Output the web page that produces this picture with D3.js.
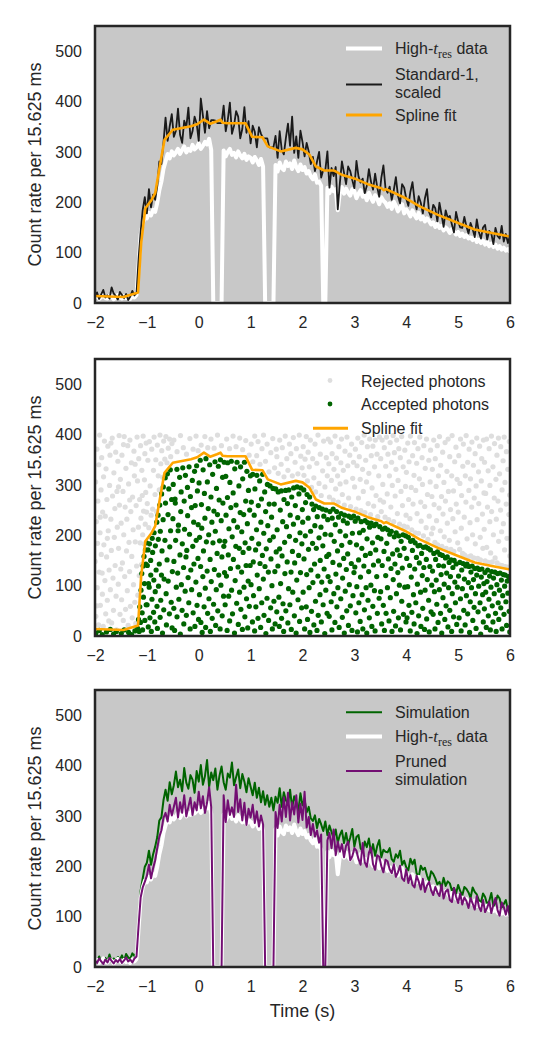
<!DOCTYPE html>
<html>
<head>
<meta charset="utf-8">
<script src="https://cdn.jsdelivr.net/npm/d3@7"></script>
<style>
  body { margin: 0; background: #fff; }
  text { font-family: "Liberation Sans", Arial, sans-serif; fill: #262626; }
</style>
</head>
<body>
<svg id="chart" width="540" height="1050"></svg>
<script>
(function(){

var xTicks = [-2, -1, 0, 1, 2, 3, 4, 5, 6];
var yTicks = [0, 100, 200, 300, 400, 500];

// light curves sampled every 0.04 s starting at t = -2 s
var t0 = -2, dt = 0.04;

var highTres = [11,14,8,12,17,10,9,15,13,7,12,16,11,9,14,10,12,8,15,11,16,
  76,136,158,171,168,179,174,185,181,199,224,241,266,281,296,287,301,293,299,306,
  296,304,311,299,306,302,314,305,309,317,306,312,320,315,326,304,0,0,0,0,
  0,303,291,300,306,294,298,289,301,293,287,296,284,291,288,279,290,283,274,286,
  271,0,0,0,0,0,274,261,279,268,264,281,272,277,266,283,270,262,275,264,
  270,257,262,251,246,255,239,241,233,0,0,229,218,231,222,226,184,220,230,217,
  227,219,213,226,222,208,217,224,211,215,204,219,209,201,214,207,196,210,203,199,
  191,198,187,201,193,182,189,196,178,186,180,172,184,175,168,179,166,171,162,168,
  163,156,160,151,157,149,153,144,150,146,139,147,142,136,141,133,138,131,135,128,
  130,125,132,121,126,119,124,116,122,113,118,111,116,108,113,106,110,104,107,101];

var standard1 = [12,21,8,17,26,11,15,9,31,19,14,7,22,16,10,18,6,13,24,15,20,
  88,142,185,210,178,226,190,215,205,232,281,276,318,368,322,351,375,330,342,386,
  334,318,362,349,388,327,341,370,356,322,406,372,338,381,347,363,363,362,357,357,
  357,392,341,364,398,336,352,381,370,327,346,389,338,361,317,352,340,309,349,336,
  327,327,327,309,309,309,332,288,341,304,295,328,356,312,370,298,331,288,342,320,
  291,318,301,276,290,262,281,300,249,264,264,301,229,268,252,270,186,238,281,259,
  236,271,262,244,228,282,251,239,247,218,233,266,241,225,257,230,211,249,273,228,
  219,231,205,224,250,213,198,236,229,207,193,221,240,204,186,212,199,178,208,226,
  181,170,195,188,162,199,176,151,184,169,173,156,140,181,162,150,149,171,152,138,
  159,147,131,166,141,128,150,155,126,143,138,117,149,133,128,153,122,137,119,134];

var simulation = [16,11,21,9,14,18,12,25,10,17,13,20,15,23,12,26,19,16,27,22,29,
  94,152,176,199,207,231,203,224,239,258,291,297,331,352,330,367,343,361,388,357,
  372,349,395,366,354,381,372,346,389,368,401,362,379,411,357,386,371,394,352,380,
  398,367,352,384,376,406,361,377,392,355,383,368,347,375,358,341,366,336,356,327,
  349,322,341,318,336,311,338,326,355,318,347,331,324,352,316,339,327,310,345,321,
  333,307,318,295,290,301,276,294,283,270,289,262,281,268,255,273,247,262,271,246,
  266,243,257,274,239,258,262,236,229,249,238,255,227,244,221,240,252,218,233,229,
  228,236,214,209,224,217,231,203,211,198,192,215,204,213,186,179,201,193,197,182,
  171,190,185,176,164,169,158,177,161,170,166,152,157,146,163,151,142,159,155,148,
  137,158,149,144,133,128,146,139,124,131,147,121,127,142,136,118,125,133,113,108];

var prunedSim = [13,8,17,11,6,15,9,18,12,7,14,10,16,8,13,19,11,15,9,17,21,
  82,138,158,169,181,203,176,196,212,236,259,271,296,306,289,322,301,318,336,297,
  327,306,341,299,318,336,302,327,311,348,315,339,306,326,357,318,0,0,0,0,
  0,341,288,331,302,317,298,362,308,333,291,326,282,314,297,322,286,309,279,301,
  283,0,0,0,0,0,308,276,322,289,337,298,346,291,327,303,341,287,324,292,
  348,277,298,262,284,259,271,247,263,0,0,251,266,236,273,222,249,229,244,218,
  241,249,212,220,236,231,214,203,246,208,199,227,237,204,193,222,219,200,188,213,
  210,194,186,204,179,188,201,176,171,194,167,182,163,158,181,170,154,175,149,162,
  169,152,143,159,148,141,163,136,150,154,133,129,157,140,127,146,124,138,131,117,
  137,126,114,141,120,111,133,109,118,130,107,124,137,113,102,128,119,104,121,97];

var splineFit = [[-2.00,14],[-1.45,12],[-1.17,21],[-1.11,119],[-1.03,188],[-0.92,203],
  [-0.84,218],[-0.75,272],[-0.66,324],[-0.50,344],[-0.15,351],[-0.03,355],[0.10,364],
  [0.22,356],[0.35,361],[0.42,364],[0.46,358],[0.55,357],[0.90,357],[1.03,330],[1.23,329],
  [1.33,311],[1.58,301],[1.87,308],[2.00,305],[2.13,295],[2.26,271],[2.42,263],[2.61,263],
  [2.77,254],[3.03,246],[3.26,236],[3.52,228],[3.57,224],[3.61,226],[3.97,209],[4.26,192],
  [4.61,175],[5.00,159],[5.32,146],[5.65,139],[6.00,132]];

// photons [time, rate]
var acceptedPhotons = [
  [-1.982,6],[-1.917,11],[-1.861,3],[-1.779,8],[-1.705,13],[-1.642,4],[-1.588,9],[-1.493,5],[-1.437,12],[-1.352,7],
  [-1.296,3],[-1.231,10],[-1.178,15],[-1.161,33],[-1.149,9],[-1.137,58],[-1.124,27],[-1.113,91],[-1.098,124],[-1.091,46],
  [-1.083,12],[-1.072,139],[-1.066,77],[-1.055,158],[-1.047,104],[-1.039,31],[-1.028,171],[-1.021,143],[-1.013,62],[-1.006,185],
  [-0.996,62],[-0.991,140],[-0.978,171],[-0.973,18],[-0.969,104],[-0.955,97],[-0.948,183],[-0.941,36],[-0.927,150],[-0.925,121],
  [-0.914,9],[-0.902,73],[-0.897,194],[-0.889,166],[-0.871,47],[-0.866,111],[-0.861,205],[-0.848,28],[-0.839,88],[-0.836,179],
  [-0.822,131],[-0.809,226],[-0.805,59],[-0.797,15],[-0.784,240],[-0.779,192],[-0.776,99],[-0.761,143],[-0.752,260],[-0.744,37],
  [-0.741,208],[-0.733,71],[-0.719,121],[-0.716,282],[-0.708,169],[-0.699,6],[-0.687,231],[-0.683,296],[-0.675,52],[-0.668,113],
  [-0.652,190],[-0.646,314],[-0.641,264],[-0.629,84],[-0.623,22],[-0.611,151],[-0.604,322],[-0.592,241],[-0.589,109],[-0.577,292],
  [-0.566,44],[-0.559,177],[-0.548,330],[-0.543,209],[-0.531,67],[-0.522,271],[-0.514,16],[-0.509,128],
  [-0.498,233],[-0.492,301],[-0.481,55],[-0.479,148],[-0.466,11],[-0.457,272],[-0.452,264],[-0.446,190],[-0.433,97],[-0.421,331],
  [-0.419,38],[-0.406,125],[-0.398,209],[-0.391,220],[-0.383,73],[-0.369,315],[-0.362,161],[-0.355,4],[-0.347,247],[-0.339,286],
  [-0.335,102],[-0.321,51],[-0.317,183],[-0.308,334],[-0.293,136],[-0.288,24],[-0.281,268],[-0.274,212],[-0.262,89],[-0.257,319],
  [-0.246,157],[-0.239,41],[-0.231,170],[-0.218,295],[-0.214,239],[-0.205,116],[-0.192,66],[-0.187,336],[-0.178,202],[-0.166,14],
  [-0.161,277],[-0.153,131],[-0.139,255],[-0.137,92],[-0.124,309],[-0.116,178],[-0.108,46],[-0.097,226],[-0.093,143],[-0.081,327],
  [-0.074,19],[-0.068,259],[-0.055,107],[-0.049,190],[-0.041,338],[-0.033,61],[-0.026,288],[-0.015,154],[-0.011,221],[-0.004,33],
  [0.006,304],[0.013,82],[0.017,196],[0.029,349],[0.036,138],[0.041,27],[0.052,261],[0.058,214],[0.066,7],[0.079,118],
  [0.084,330],[0.091,169],[0.103,58],[0.109,283],[0.118,234],[0.126,95],[0.133,17],[0.139,352],[0.147,187],[0.162,129],
  [0.166,306],[0.171,45],[0.183,253],[0.192,201],[0.197,74],[0.211,340],[0.219,152],[0.224,9],[0.236,276],[0.241,108],
  [0.253,226],[0.259,35],[0.268,321],[0.274,185],[0.286,63],[0.292,248],[0.301,132],[0.313,346],[0.319,208],[0.326,21],
  [0.338,92],[0.342,293],[0.354,164],[0.361,241],[0.367,50],[0.378,337],[0.386,121],[0.393,270],[0.401,189],[0.412,14],
  [0.418,350],[0.427,101],[0.433,229],[0.446,157],[0.452,40],[0.459,315],[0.466,264],[0.478,79],[0.483,178],[0.491,345],
  [0.497,126],
  [0.503,188],[0.509,62],[0.521,317],[0.526,240],[0.534,119],[0.547,11],[0.553,275],[0.558,344],[0.569,161],[0.577,79],
  [0.582,213],[0.596,30],[0.601,305],[0.612,134],[0.619,255],[0.628,347],[0.633,91],[0.645,197],[0.651,44],[0.663,284],
  [0.668,152],[0.675,229],[0.689,6],[0.694,332],[0.702,110],[0.715,178],[0.719,260],[0.731,65],[0.738,345],[0.746,216],
  [0.757,137],[0.762,23],[0.774,298],[0.781,174],[0.787,87],[0.799,245],[0.806,336],[0.812,53],[0.826,127],[0.829,207],
  [0.841,13],[0.847,312],[0.855,166],[0.866,241],[0.872,97],[0.881,345],[0.889,38],[0.894,185],[0.905,268],[0.913,140],
  [0.921,74],[0.928,327],[0.937,223],[0.944,16],[0.953,109],[0.958,289],[0.967,174],[0.975,59],[0.982,250],[0.991,140],
  [0.997,318],
  [1.008,102],[1.014,266],[1.023,194],[1.035,28],[1.041,321],[1.052,147],[1.057,80],[1.069,240],[1.077,10],[1.083,292],
  [1.096,171],[1.101,58],[1.113,211],[1.119,319],[1.127,121],[1.142,35],[1.148,259],[1.155,183],[1.166,94],[1.174,308],
  [1.181,144],[1.193,17],[1.198,226],[1.209,272],[1.214,66],[1.227,160],[1.232,321],[1.245,113],[1.253,204],[1.258,41],
  [1.271,286],[1.277,138],[1.289,247],[1.294,5],[1.302,173],[1.316,75],[1.323,301],[1.331,219],[1.342,127],[1.347,31],
  [1.358,262],[1.369,190],[1.374,298],[1.386,56],[1.392,153],[1.404,236],[1.411,100],[1.419,14],[1.431,293],[1.438,197],
  [1.449,69],[1.456,262],[1.467,128],[1.472,24],[1.484,292],[1.493,167],
  [1.504,48],[1.511,211],[1.526,139],[1.531,286],[1.545,77],[1.553,19],[1.559,173],[1.572,250],[1.578,104],[1.591,288],
  [1.597,35],[1.606,159],[1.618,227],[1.624,64],[1.637,9],[1.643,271],[1.655,186],[1.661,124],[1.674,289],[1.679,50],
  [1.692,217],[1.705,147],[1.711,263],[1.718,26],[1.731,94],[1.736,290],[1.748,198],[1.757,62],[1.763,240],[1.779,127],
  [1.784,13],[1.792,276],[1.806,168],[1.812,87],[1.825,222],[1.829,294],[1.843,40],[1.849,145],[1.862,259],[1.868,190],
  [1.877,6],[1.889,111],[1.896,296],[1.908,235],[1.913,72],[1.926,160],[1.931,282],[1.944,29],[1.952,205],[1.961,126],
  [1.969,294],[1.983,56],[1.988,183],[1.997,251],
  [2.004,226],[2.012,87],[2.025,290],[2.029,153],[2.041,14],[2.054,199],[2.059,265],[2.072,58],[2.081,122],[2.088,281],
  [2.097,33],[2.109,234],[2.116,172],[2.128,96],[2.137,276],[2.143,7],[2.156,208],[2.161,131],[2.174,49],[2.182,262],
  [2.194,184],[2.201,106],[2.213,251],[2.219,22],[2.232,143],[2.238,219],[2.251,69],[2.257,258],[2.266,174],[2.279,11],
  [2.285,237],[2.297,119],[2.303,41],[2.318,195],[2.323,255],[2.337,82],[2.342,150],[2.356,216],[2.363,28],[2.371,107],
  [2.384,252],[2.392,179],[2.398,62],[2.411,238],[2.417,133],[2.429,5],[2.436,202],[2.449,91],[2.453,250],[2.467,158],
  [2.474,45],[2.486,231],[2.493,118],
  [2.507,162],[2.515,39],[2.528,247],[2.534,108],[2.546,201],[2.553,68],[2.567,12],[2.572,234],[2.586,146],[2.591,252],
  [2.604,84],[2.612,188],[2.625,27],[2.633,221],[2.644,123],[2.657,247],[2.663,58],[2.675,169],[2.682,96],[2.694,236],
  [2.707,17],[2.713,141],[2.724,208],[2.738,74],[2.744,243],[2.756,180],[2.768,37],[2.773,115],[2.787,229],[2.794,154],
  [2.806,6],[2.811,240],[2.824,89],[2.831,199],[2.845,132],[2.852,50],[2.864,224],[2.871,163],[2.885,21],[2.892,238],
  [2.903,102],[2.916,186],[2.922,60],[2.935,235],[2.941,144],[2.954,11],[2.962,204],[2.973,80],[2.986,238],[2.992,126],
  [3.009,137],[3.016,228],[3.028,46],[3.041,181],[3.047,98],[3.059,8],[3.068,234],[3.081,151],[3.087,66],[3.099,205],
  [3.112,29],[3.118,117],[3.131,227],[3.144,174],[3.149,82],[3.163,14],[3.171,210],[3.183,139],[3.194,52],[3.206,229],
  [3.213,160],[3.226,96],[3.239,6],[3.244,193],[3.257,225],[3.263,71],[3.276,128],[3.288,36],[3.293,216],[3.306,164],
  [3.318,101],[3.325,224],[3.337,19],[3.349,185],[3.356,59],[3.368,141],[3.381,219],[3.387,90],[3.399,10],[3.412,171],
  [3.418,222],[3.431,118],[3.443,45],[3.452,196],[3.464,149],[3.477,75],[3.489,217],
  [3.506,88],[3.513,193],[3.526,24],[3.537,140],[3.544,212],[3.558,61],[3.571,168],[3.579,11],[3.592,214],[3.604,120],
  [3.611,45],[3.624,184],[3.637,96],[3.643,211],[3.656,153],[3.668,30],[3.681,202],[3.693,76],[3.706,134],[3.712,208],
  [3.725,9],[3.738,163],[3.749,112],[3.757,49],[3.769,197],[3.782,143],[3.794,20],[3.806,205],[3.811,84],[3.827,171],
  [3.838,126],[3.849,36],[3.855,199],[3.868,101],[3.876,160],[3.889,12],[3.901,188],[3.913,69],[3.924,135],[3.937,201],
  [3.946,43],[3.959,174],[3.971,97],[3.988,199],[3.995,28],
  [4.009,154],[4.016,36],[4.028,98],[4.041,196],[4.052,61],[4.065,140],[4.077,10],[4.084,188],[4.097,117],[4.108,47],
  [4.119,170],[4.127,190],[4.139,82],[4.151,24],[4.163,133],[4.171,185],[4.184,66],[4.196,156],[4.208,5],[4.215,103],
  [4.227,179],[4.239,40],[4.252,145],[4.264,180],[4.276,87],[4.283,19],[4.296,164],[4.309,120],[4.318,55],[4.331,176],
  [4.339,136],[4.352,13],[4.363,91],[4.375,177],[4.387,152],[4.394,34],[4.406,112],[4.419,174],[4.431,71],[4.443,8],
  [4.455,138],[4.466,171],[4.478,48],[4.491,101],
  [4.507,129],[4.518,43],[4.531,164],[4.543,88],[4.554,14],[4.566,152],[4.578,111],[4.589,63],[4.601,167],[4.613,27],
  [4.625,140],[4.638,92],[4.649,162],[4.661,45],[4.672,122],[4.684,6],[4.697,160],[4.708,76],[4.719,139],[4.731,103],
  [4.743,33],[4.756,155],[4.768,60],[4.779,125],[4.791,157],[4.804,18],[4.816,96],[4.827,146],[4.839,51],[4.852,118],
  [4.864,151],[4.875,9],[4.887,84],[4.899,136],[4.912,38],[4.924,150],[4.936,107],[4.948,66],[4.961,143],[4.973,23],
  [4.986,97],
  [5.008,119],[5.019,36],[5.033,146],[5.045,74],[5.058,10],[5.069,131],[5.082,94],[5.096,144],[5.108,51],[5.121,113],
  [5.135,22],[5.147,139],[5.159,80],[5.171,143],[5.184,44],[5.197,106],[5.209,138],[5.221,7],[5.234,68],[5.247,127],
  [5.258,96],[5.271,139],[5.283,31],[5.296,112],[5.308,57],[5.321,134],[5.334,84],[5.346,15],[5.359,121],[5.372,135],
  [5.384,48],[5.397,99],[5.409,132],[5.422,66],[5.435,4],[5.447,117],[5.459,133],[5.472,82],[5.485,28],[5.496,104],
  [5.506,54],[5.518,126],[5.531,87],[5.543,17],[5.557,108],[5.569,131],[5.582,40],[5.594,73],[5.607,119],[5.621,12],
  [5.633,97],[5.646,128],[5.658,60],[5.671,28],[5.683,115],[5.696,84],[5.708,127],[5.721,45],[5.733,9],[5.747,102],
  [5.759,124],[5.772,66],[5.784,33],[5.797,91],[5.809,125],[5.822,56],[5.834,111],[5.847,14],[5.859,80],[5.872,122],
  [5.884,43],[5.897,99],[5.909,121],[5.921,68],[5.934,21],[5.946,109],[5.959,85],[5.971,118],[5.984,49],[5.996,8]];

var rejectedPhotons = [
  [-1.997,148],[-1.988,306],[-1.983,39],[-1.975,227],[-1.964,371],[-1.963,60],[-1.958,96],[-1.952,184],[-1.944,268],[-1.931,22],
  [-1.926,340],[-1.919,127],[-1.911,399],[-1.903,205],[-1.9,236],[-1.896,61],[-1.884,290],[-1.879,162],[-1.871,354],[-1.862,125],
  [-1.858,83],[-1.853,246],[-1.842,19],[-1.835,316],[-1.829,181],[-1.818,387],[-1.809,110],[-1.802,238],[-1.794,44],[-1.787,332],
  [-1.776,157],[-1.771,271],[-1.763,71],[-1.762,194],[-1.752,377],[-1.745,209],[-1.734,30],[-1.728,131],[-1.719,299],[-1.711,359],
  [-1.703,92],[-1.694,232],[-1.692,383],[-1.685,170],[-1.679,26],[-1.668,393],[-1.662,278],[-1.653,115],[-1.644,51],[-1.636,324],
  [-1.628,196],[-1.617,253],[-1.612,140],[-1.601,365],[-1.594,79],[-1.586,12],[-1.577,287],[-1.571,216],[-1.559,347],[-1.552,103],
  [-1.547,296],[-1.546,174],[-1.535,398],[-1.529,260],[-1.518,43],[-1.511,311],[-1.503,133],
  [-1.496,224],[-1.487,72],[-1.481,359],[-1.472,145],[-1.461,287],[-1.455,31],[-1.451,380],[-1.446,201],[-1.437,396],[-1.428,118],
  [-1.419,256],[-1.411,53],[-1.404,333],[-1.393,169],[-1.386,232],[-1.377,90],[-1.369,378],[-1.361,21],[-1.352,302],[-1.344,186],
  [-1.333,128],[-1.331,270],[-1.327,389],[-1.318,59],[-1.309,247],[-1.298,344],[-1.291,158],[-1.283,36],[-1.276,276],[-1.265,211],
  [-1.258,102],[-1.249,367],[-1.241,318],[-1.232,67],[-1.227,341],[-1.224,187],[-1.213,25],[-1.207,259],[-1.198,139],[-1.189,395],
  [-1.181,308],[-1.174,81],[-1.163,216],[-1.156,352],[-1.148,120],[-1.139,271],[-1.131,185],[-1.122,378],[-1.114,234],[-1.106,142],
  [-1.097,329],[-1.089,279],[-1.081,201],[-1.072,397],[-1.064,248],[-1.055,183],[-1.047,310],[-1.039,362],[-1.031,222],[-1.022,285],
  [-1.014,383],[-1.006,246],
  [-0.992,263],[-0.981,349],[-0.963,215],[-0.951,386],[-0.937,298],[-0.918,240],[-0.906,371],[-0.889,252],[-0.873,329],[-0.861,395],
  [-0.842,281],[-0.828,350],[-0.815,247],[-0.798,379],[-0.781,318],[-0.762,290],[-0.747,399],[-0.731,342],[-0.713,368],[-0.694,315],
  [-0.676,387],[-0.654,351],[-0.633,396],[-0.612,344],[-0.588,373],[-0.562,391],[-0.541,356],[-0.517,382],
  [-0.479,389],[-0.418,366],[-0.352,398],[-0.297,374],[-0.236,361],[-0.171,392],[-0.109,371],[-0.052,397],[-0.013,368],
  [0.047,379],[0.118,396],[0.174,374],[0.236,391],[0.297,373],[0.361,399],[0.437,378],
  [0.538,391],[0.594,372],[0.661,397],[0.719,376],[0.789,393],[0.846,370],[0.906,388],[0.971,359],
  [1.011,381],[1.043,346],[1.079,397],[1.116,358],[1.143,386],[1.181,341],[1.219,372],[1.248,399],[1.286,347],[1.318,381],
  [1.353,326],[1.389,364],[1.427,392],[1.462,334],[1.494,371],
  [1.506,356],[1.532,323],[1.561,389],[1.588,341],[1.611,374],[1.643,316],[1.667,397],[1.698,352],[1.719,329],[1.748,381],
  [1.776,362],[1.804,318],[1.823,394],[1.857,345],[1.882,372],[1.911,322],[1.938,399],[1.967,357],[1.993,334],
  [2.014,376],[2.028,319],[2.049,351],[2.073,396],[2.094,308],[2.108,365],[2.131,336],[2.152,389],[2.174,295],[2.196,352],
  [2.219,314],[2.241,381],[2.253,286],[2.276,343],[2.298,399],[2.319,303],[2.343,361],[2.361,279],[2.388,328],[2.407,387],
  [2.432,296],[2.459,354],[2.478,318],[2.496,391],
  [2.508,342],[2.519,276],[2.541,385],[2.557,309],[2.571,362],[2.593,270],[2.606,331],[2.627,397],[2.639,292],[2.654,353],
  [2.676,318],[2.688,266],[2.703,376],[2.725,302],[2.739,344],[2.752,391],[2.768,281],[2.787,329],[2.806,260],[2.819,367],
  [2.838,306],[2.857,395],[2.873,338],[2.889,274],[2.911,359],[2.927,257],[2.946,381],[2.968,313],[2.983,345],
  [3.004,296],[3.019,371],[3.033,252],[3.051,338],[3.066,393],[3.079,274],[3.095,356],[3.112,311],[3.127,249],[3.141,384],
  [3.158,331],[3.172,287],[3.189,399],[3.203,245],[3.218,349],[3.234,306],[3.251,376],[3.266,263],[3.279,323],[3.296,391],
  [3.311,241],[3.326,358],[3.341,294],[3.357,377],[3.372,258],[3.389,336],[3.404,389],[3.418,279],[3.436,361],[3.451,237],
  [3.469,318],[3.484,395],[3.497,270],
  [3.508,352],[3.519,247],[3.536,389],[3.548,301],[3.563,266],[3.577,374],[3.592,236],[3.604,337],[3.619,395],[3.633,282],
  [3.647,361],[3.661,231],[3.676,318],[3.689,384],[3.703,256],[3.718,345],[3.731,299],[3.747,398],[3.758,227],[3.771,364],
  [3.786,278],[3.801,331],[3.815,389],[3.829,243],[3.842,309],[3.857,372],[3.871,222],[3.886,354],[3.899,287],[3.912,396],
  [3.927,259],[3.941,336],[3.956,218],[3.972,369],[3.985,297],[3.997,240],
  [4.003,325],[4.02,216],[4.029,383],[4.046,271],[4.054,346],[4.071,233],[4.08,397],[4.097,295],[4.106,211],[4.123,358],
  [4.131,262],[4.149,319],[4.158,384],[4.175,205],[4.183,289],[4.201,343],[4.209,243],[4.226,372],[4.236,204],[4.253,312],
  [4.261,395],[4.279,266],[4.288,228],[4.305,354],[4.313,301],[4.331,199],[4.339,378],[4.356,257],[4.366,333],[4.383,215],
  [4.391,391],[4.409,281],[4.418,192],[4.435,349],[4.443,238],[4.461,306],[4.469,369],[4.486,203],[4.494,277],
  [4.503,331],[4.514,214],[4.529,389],[4.537,261],[4.552,186],[4.559,352],[4.576,297],[4.584,229],[4.598,378],[4.606,181],
  [4.621,318],[4.633,254],[4.641,396],[4.657,209],[4.663,339],[4.679,277],[4.688,178],[4.702,365],[4.709,242],[4.726,305],
  [4.733,197],[4.749,384],[4.756,268],[4.771,174],[4.784,327],[4.792,224],[4.807,391],[4.813,287],[4.83,190],[4.838,356],
  [4.853,251],[4.861,172],[4.876,318],[4.884,398],[4.899,233],[4.911,288],[4.918,168],[4.934,346],[4.942,207],[4.958,375],
  [4.964,262],[4.981,311],[4.992,185],
  [5.002,246],[5.013,358],[5.029,172],[5.034,303],[5.046,391],[5.061,214],[5.067,279],[5.085,164],[5.09,337],[5.101,381],
  [5.118,236],[5.123,161],[5.139,318],[5.15,266],[5.155,398],[5.172,193],[5.184,345],[5.191,157],[5.207,289],[5.212,371],
  [5.229,225],[5.238,312],[5.244,159],[5.261,256],[5.266,385],[5.279,201],[5.295,339],[5.301,155],[5.311,274],[5.328,362],
  [5.331,183],[5.347,298],[5.359,393],[5.366,231],[5.377,154],[5.393,326],[5.398,263],[5.414,377],[5.426,196],[5.43,151],
  [5.447,308],[5.455,352],[5.469,242],[5.477,174],[5.488,389],[5.498,284],
  [5.503,212],[5.509,345],[5.522,149],[5.531,283],[5.548,391],[5.551,176],[5.566,256],[5.579,328],[5.583,146],[5.598,372],
  [5.611,227],[5.613,299],[5.627,165],[5.642,397],[5.646,247],[5.659,147],[5.671,336],[5.68,201],[5.697,274],[5.702,382],
  [5.713,155],[5.729,311],[5.736,232],[5.748,359],[5.753,145],[5.769,268],[5.777,393],[5.781,188],[5.799,322],[5.806,141],
  [5.818,250],[5.822,376],[5.839,207],[5.847,290],[5.851,140],[5.867,348],[5.872,223],[5.888,395],[5.896,171],[5.903,305],
  [5.911,138],[5.927,262],[5.931,366],[5.942,194],[5.958,331],[5.963,137],[5.979,241],[5.986,386],[5.992,280],[5.997,159]];

var colors = {
  panel: "#c8c8c8", frame: "#262626", white: "#ffffff", black: "#1a1a1a",
  orange: "#ffa500", green: "#006400", purple: "#730f73", rejected: "#dedede"
};

var left = 95, width = 415, height = 277;
var panelTops = [26, 359, 690];

var svg = d3.select("#chart");

var x = d3.scaleLinear().domain([-2, 6]).range([0, width]);
var y = d3.scaleLinear().domain([0, 550]).range([height, 0]);

function sampled(vals) {
  return vals.map(function(v, i) { return [t0 + i * dt, v]; });
}

var line = d3.line()
  .x(function(d) { return x(d[0]); })
  .y(function(d) { return y(d[1]); });

function makePanel(i, bg) {
  var g = svg.append("g")
    .attr("transform", "translate(" + left + "," + panelTops[i] + ")");
  g.append("clipPath").attr("id", "clip" + i)
    .append("rect").attr("width", width).attr("height", height);
  g.append("rect").attr("width", width).attr("height", height).attr("fill", bg);

  var plot = g.append("g").attr("clip-path", "url(#clip" + i + ")");

  var xAxis = g.append("g")
    .attr("transform", "translate(0," + height + ")")
    .call(d3.axisBottom(x).tickValues(xTicks).tickSize(0).tickPadding(14)
      .tickFormat(d3.format("d")));
  var yAxis = g.append("g")
    .call(d3.axisLeft(y).tickValues(yTicks).tickSize(0).tickPadding(13));
  [xAxis, yAxis].forEach(function(a) {
    a.select(".domain").remove();
    a.attr("font-size", 16).attr("font-family", null);
  });

  svg.append("text")
    .attr("transform", "translate(41," + (panelTops[i] + height / 2) + ") rotate(-90)")
    .attr("text-anchor", "middle")
    .attr("font-size", 18)
    .text("Count rate per 15.625 ms");

  return {g: g, plot: plot};
}

function frame(p) {
  p.g.append("rect")
    .attr("width", width).attr("height", height)
    .attr("fill", "none")
    .attr("stroke", colors.frame)
    .attr("stroke-width", 2.5);
}

function drawLine(plot, data, color, w) {
  plot.append("path")
    .datum(data)
    .attr("fill", "none")
    .attr("stroke", color)
    .attr("stroke-width", w)
    .attr("stroke-linejoin", "round")
    .attr("d", line);
}

function legendLine(x1, yy, color, w) {
  svg.append("line")
    .attr("x1", x1).attr("x2", x1 + 36)
    .attr("y1", yy).attr("y2", yy)
    .attr("stroke", color).attr("stroke-width", w);
}

function legendText(xx, yy, lines) {
  var t = svg.append("text").attr("x", xx).attr("y", yy).attr("font-size", 16);
  lines.forEach(function(s, k) {
    t.append("tspan").attr("x", xx).attr("dy", k ? 17.5 : 0).text(s);
  });
  return t;
}

function highTresLabel(xx, yy) {
  var t = svg.append("text").attr("x", xx).attr("y", yy).attr("font-size", 16);
  t.append("tspan").text("High-");
  t.append("tspan").attr("font-family", "Liberation Serif, serif")
    .attr("font-style", "italic").attr("font-size", 17).text("t");
  t.append("tspan").attr("font-family", "Liberation Serif, serif")
    .attr("font-size", 12).attr("dy", 4).text("res");
  t.append("tspan").attr("dy", -4).text(" data");
}

// panel 1: light curves
var p1 = makePanel(0, colors.panel);
drawLine(p1.plot, sampled(highTres), colors.white, 4);
drawLine(p1.plot, sampled(standard1), colors.black, 1.8);
drawLine(p1.plot, splineFit, colors.orange, 2.6);
frame(p1);

legendLine(346, 48.5, colors.white, 4);
highTresLabel(395, 54);
legendLine(346, 84.5, colors.black, 2);
legendText(395, 80, ["Standard-1,", "scaled"]);
legendLine(346, 115, colors.orange, 3);
legendText(395, 121, ["Spline fit"]);

// panel 2: photon acceptance
var p2 = makePanel(1, "#ffffff");
p2.plot.selectAll("circle.rej")
  .data(rejectedPhotons).enter()
  .append("circle").attr("class", "rej")
  .attr("cx", function(d) { return x(d[0]); })
  .attr("cy", function(d) { return y(d[1]); })
  .attr("r", 2.6)
  .attr("fill", colors.rejected);
p2.plot.selectAll("circle.acc")
  .data(acceptedPhotons).enter()
  .append("circle").attr("class", "acc")
  .attr("cx", function(d) { return x(d[0]); })
  .attr("cy", function(d) { return y(d[1]); })
  .attr("r", 2.6)
  .attr("fill", colors.green);
drawLine(p2.plot, splineFit, colors.orange, 2.6);
frame(p2);

svg.append("circle").attr("cx", 330).attr("cy", 380.5).attr("r", 2.4).attr("fill", colors.rejected);
legendText(361, 386.5, ["Rejected photons"]);
svg.append("circle").attr("cx", 330).attr("cy", 404).attr("r", 2.4).attr("fill", colors.green);
legendText(361, 410, ["Accepted photons"]);
svg.append("line").attr("x1", 313).attr("x2", 348).attr("y1", 428.3).attr("y2", 428.3)
  .attr("stroke", colors.orange).attr("stroke-width", 3);
legendText(361, 434, ["Spline fit"]);

// panel 3: simulation
var p3 = makePanel(2, colors.panel);
drawLine(p3.plot, sampled(simulation), colors.green, 2);
drawLine(p3.plot, sampled(highTres), colors.white, 4);
drawLine(p3.plot, sampled(prunedSim), colors.purple, 2);
frame(p3);

legendLine(346, 712.3, colors.green, 2);
legendText(395, 718, ["Simulation"]);
legendLine(346, 736.5, colors.white, 4);
highTresLabel(395, 742);
legendLine(346, 771, colors.purple, 2);
legendText(395, 767, ["Pruned", "simulation"]);

svg.append("text")
  .attr("x", left + width / 2)
  .attr("y", 1017)
  .attr("text-anchor", "middle")
  .attr("font-size", 18)
  .text("Time (s)");

})();
</script>
</body>
</html>
